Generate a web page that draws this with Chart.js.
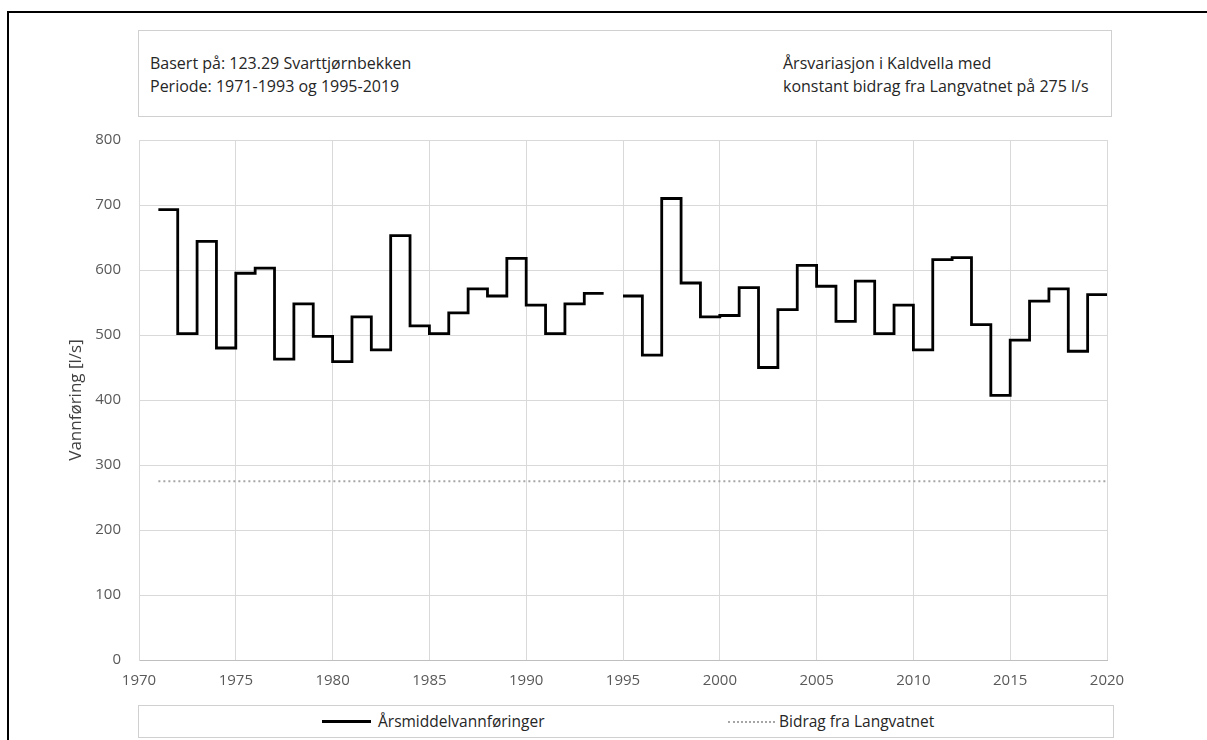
<!DOCTYPE html>
<html>
<head>
<meta charset="utf-8">
<script src="https://cdn.jsdelivr.net/npm/chart.js@4.4.1/dist/chart.umd.min.js"></script>
<style>
  html, body { margin: 0; padding: 0; background: #fff; }
  body { width: 1207px; height: 740px; position: relative; overflow: hidden; font-family: "Open Sans", sans-serif; }
  #frame { position: absolute; left: 7px; top: 11px; width: 1400px; height: 900px; border-left: 2px solid #000; border-top: 2px solid #000; box-sizing: border-box; }
  #wrap { position: absolute; left: 0; top: 0; width: 1207px; height: 740px; }
  .box { position: absolute; border: 1px solid #d0d0d0; box-sizing: border-box; background: #fff; }
  .t { position: absolute; font-size: 16px; color: #262626; white-space: nowrap; line-height: 22px; }
  .leg { position: absolute; font-size: 15.5px; color: #262626; white-space: nowrap; line-height: 20px; }
</style>
</head>
<body>
<div id="frame"></div>
<div id="wrap"><canvas id="c" width="1207" height="740"></canvas></div>
<div class="box" style="left:138px; top:30px; width:974px; height:87px;">
  <div class="t" style="left:11px; top:21px;">Basert på: 123.29 Svarttjørnbekken</div>
  <div class="t" style="left:11px; top:44px;">Periode: 1971-1993 og 1995-2019</div>
  <div class="t" style="left:644px; top:21px;">Årsvariasjon i Kaldvella med</div>
  <div class="t" style="left:644px; top:44px;">konstant bidrag fra Langvatnet på 275 l/s</div>
</div>
<div class="box" style="left:138px; top:705px; width:976px; height:33px;">
  <div style="position:absolute; left:183px; top:14px; width:49px; height:0; border-top:3px solid #000;"></div>
  <div class="leg" style="left:239px; top:5px;">Årsmiddelvannføringer</div>
  <div style="position:absolute; left:589px; top:15px; width:47px; height:0; border-top:2px dotted #a6a6a6;"></div>
  <div class="leg" style="left:640px; top:5px;">Bidrag fra Langvatnet</div>
</div>
<script>
// ---- data ----
const years = [1971,1972,1973,1974,1975,1976,1977,1978,1979,1980,
               1981,1982,1983,1984,1985,1986,1987,1988,1989,1990,
               1991,1992,1993,1994,1995,1996,1997,1998,1999,2000,
               2001,2002,2003,2004,2005,2006,2007,2008,2009,2010,
               2011,2012,2013,2014,2015,2016,2017,2018,2019];
const arsmiddel = [693,502,644,480,595,603,463,548,498,459,
                   528,477,653,514,502,534,571,560,618,546,
                   502,548,564,null,560,469,710,580,528,530,
                   573,450,539,607,575,521,583,502,546,477,
                   616,619,516,407,492,552,571,475,562];
const bidragYears = [1971, 2020];
const bidragValues = [275, 275];
const xTicks = { min: 1970, max: 2020, step: 5 };
const yTicks = { min: 0, max: 800, step: 100 };
const labelsText = ['Årsmiddelvannføringer', 'Bidrag fra Langvatnet'];
const yTitle = 'Vannføring [l/s]';

// each annual mean spans its year (year -> year+1)
const stepPoints = [];
years.forEach((y, i) => {
  const v = arsmiddel[i];
  if (v === null) { stepPoints.push({ x: y, y: null }); }
  else { stepPoints.push({ x: y, y: v }); stepPoints.push({ x: y + 1, y: v }); }
});
const bidragPoints = bidragYears.map((y, i) => ({ x: y, y: bidragValues[i] }));

const tickFont = { family: 'Open Sans', size: 15 };

new Chart(document.getElementById('c'), {
  type: 'line',
  data: {
    datasets: [
      { label: labelsText[0], data: stepPoints, borderColor: '#000', borderWidth: 2.8,
        pointRadius: 0, fill: false, spanGaps: false, tension: 0,
        borderJoinStyle: 'miter', borderCapStyle: 'butt' },
      { label: labelsText[1], data: bidragPoints, borderColor: '#a6a6a6', borderWidth: 2.2,
        borderDash: [2, 3], pointRadius: 0, fill: false, tension: 0 }
    ]
  },
  options: {
    responsive: false,
    animation: false,
    layout: { padding: { top: 140, right: 100, bottom: 40, left: 0 } },
    plugins: { legend: { display: false }, tooltip: { enabled: false } },
    scales: {
      x: {
        type: 'linear', min: xTicks.min, max: xTicks.max,
        ticks: { stepSize: xTicks.step, color: '#595959', font: tickFont, padding: 12,
                 callback: v => String(v) },
        grid: { color: '#d9d9d9', lineWidth: 1, drawTicks: false },
        border: { color: '#bfbfbf', width: 1 },
        afterFit: s => { s.height = 40; }
      },
      y: {
        min: yTicks.min, max: yTicks.max,
        ticks: { stepSize: yTicks.step, color: '#595959', font: tickFont, padding: 18 },
        grid: { color: '#d9d9d9', lineWidth: 1, drawTicks: false },
        border: { color: '#d9d9d9', width: 1 },
        title: { display: true, text: yTitle, color: '#404040',
                 font: { family: 'Open Sans', size: 17 }, padding: { top: 66, bottom: 0 } },
        afterFit: s => { s.width = 139; }
      }
    }
  }
});
</script>
</body>
</html>
